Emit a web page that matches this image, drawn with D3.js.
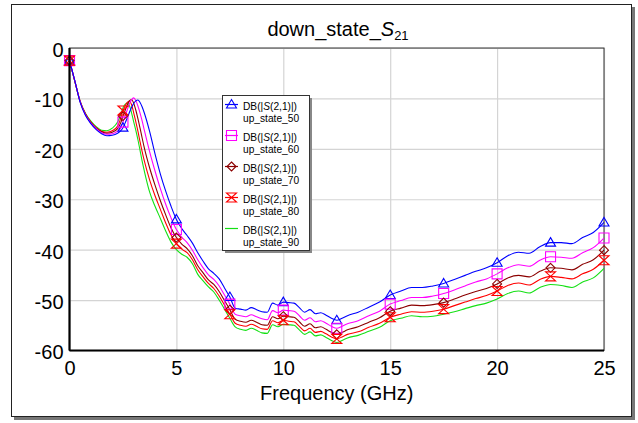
<!DOCTYPE html>
<html>
<head>
<meta charset="utf-8">
<script src="https://cdn.jsdelivr.net/npm/d3@7"></script>
<style>
  body { margin: 0; background: #fff; }
  text { font-family: "Liberation Sans", Arial, Helvetica, sans-serif; }
</style>
</head>
<body>
<svg id="chart"></svg>
<script>
// frequency grid (GHz)
const freq = [0,0.25,0.5,0.75,1,1.25,1.5,1.75,2,2.25,
  2.4,2.5,2.6,2.7,2.8,2.9,3,3.1,3.2,3.3,3.4,3.5,
  3.75,4,4.25,4.5,4.75,5,5.25,5.5,5.75,6,6.25,6.5,6.75,7,7.25,7.5,7.75,
  8,8.25,8.5,8.75,9,9.25,9.5,9.75,10,10.25,10.5,10.75,11,11.25,11.5,11.75,12,12.25,12.5,12.75,13,
  13.5,14,14.5,15,15.5,16,16.5,17,17.5,18,18.5,19,19.5,20,20.5,21,21.5,22,22.5,23,23.5,24,24.5,25];

// DB(|S(2,1)|) per state
const up50 = [-2.5,-6.5,-10.8,-13.4,-15.0,-16.2,-17.0,-17.4,-17.3,-16.9,
  -16.4,-15.8,-14.9,-13.9,-12.8,-11.8,-11.0,-10.5,-10.3,-10.8,-11.7,-12.9,
  -16.6,-21.0,-25.0,-28.4,-31.4,-34.0,-35.8,-37.2,-38.7,-40.6,-42.3,-43.8,-44.7,-45.8,-47.6,-49.4,-51.6,
  -51.8,-52.0,-51.5,-51.9,-52.3,-52.4,-50.6,-51.0,-50.4,-50.5,-50.6,-51.5,-52.4,-51.9,-52.7,-52.5,-53.0,-53.6,-54.0,-53.6,-53.1,
  -52.4,-51.4,-50.4,-49.0,-48.2,-47.5,-47.5,-47.2,-46.7,-45.9,-45.1,-44.3,-43.6,-42.6,-41.2,-40.5,-40.7,-39.4,-38.6,-38.6,-38.8,-37.6,-36.6,-34.6];

const up60 = [-2.5,-6.5,-10.7,-13.3,-14.9,-16.0,-16.8,-17.1,-17.0,-16.5,
  -15.8,-14.7,-13.5,-12.3,-11.1,-10.3,-9.9,-10.4,-11.5,-12.9,-14.5,-16.3,
  -20.6,-24.4,-27.9,-31.0,-33.7,-36.0,-37.5,-38.6,-40.1,-42.0,-43.6,-45.0,-45.9,-47.2,-49.0,-50.8,-52.8,
  -53.1,-53.3,-52.9,-53.3,-53.7,-53.9,-52.1,-52.5,-52.0,-52.1,-52.2,-53.1,-54.0,-53.5,-54.3,-54.1,-54.6,-55.2,-55.6,-55.2,-54.7,
  -54.1,-53.1,-52.2,-50.8,-50.1,-49.5,-49.5,-49.2,-48.7,-48.0,-47.2,-46.4,-45.8,-44.8,-43.6,-43.0,-43.3,-42.1,-41.4,-41.5,-41.7,-40.6,-39.6,-37.7];

const up70 = [-2.5,-6.6,-10.7,-13.2,-14.8,-15.9,-16.6,-16.9,-16.7,-16.0,
  -14.8,-13.5,-12.4,-11.3,-10.5,-10.2,-10.9,-12.3,-14.0,-15.9,-17.9,-19.8,
  -23.8,-27.2,-30.3,-33.1,-35.7,-37.6,-38.9,-39.8,-41.2,-43.2,-44.6,-46.0,-46.9,-48.3,-50.1,-51.9,-53.8,
  -54.2,-54.4,-54.0,-54.4,-54.9,-55.0,-53.3,-53.7,-53.2,-53.3,-53.4,-54.3,-55.2,-54.7,-55.5,-55.3,-55.8,-56.4,-56.8,-56.4,-55.9,
  -55.3,-54.4,-53.5,-52.2,-51.6,-51.0,-51.1,-50.9,-50.5,-49.8,-49.0,-48.3,-47.7,-46.8,-45.6,-45.1,-45.4,-44.3,-43.6,-43.7,-44.0,-42.9,-42.0,-40.1];

const up80 = [-2.5,-6.6,-10.6,-13.1,-14.7,-15.8,-16.5,-16.7,-16.4,-15.5,
  -13.9,-12.4,-11.5,-10.8,-10.5,-11.2,-12.8,-14.6,-16.5,-18.6,-20.6,-22.4,
  -26.2,-29.3,-32.0,-34.7,-37.1,-38.8,-39.9,-40.6,-42.0,-44.0,-45.4,-46.7,-47.7,-49.2,-51.0,-52.8,-54.6,
  -55.0,-55.2,-54.8,-55.2,-55.7,-55.8,-54.1,-54.5,-54.0,-54.2,-54.3,-55.2,-56.1,-55.6,-56.4,-56.2,-56.7,-57.3,-57.7,-57.3,-56.8,
  -56.3,-55.4,-54.6,-53.4,-52.8,-52.3,-52.4,-52.2,-51.8,-51.1,-50.4,-49.7,-49.1,-48.2,-47.1,-46.6,-47.0,-45.9,-45.3,-45.5,-45.8,-44.8,-43.9,-42.1];

const up90 = [-2.5,-6.6,-10.6,-13.0,-14.5,-15.6,-16.3,-16.4,-15.9,-14.7,
  -13.2,-11.9,-11.2,-10.9,-11.4,-12.8,-14.6,-16.3,-18.2,-20.3,-22.5,-24.4,
  -28.6,-31.4,-33.8,-36.3,-38.5,-40.0,-40.9,-41.5,-42.8,-44.9,-46.2,-47.4,-48.4,-50.0,-51.8,-53.6,-55.3,
  -55.8,-56.0,-55.6,-56.0,-56.5,-56.6,-54.9,-55.3,-54.8,-54.9,-55.0,-55.9,-56.8,-56.3,-57.1,-56.9,-57.4,-58.0,-58.4,-58.0,-57.5,
  -57.0,-56.2,-55.4,-54.1,-53.6,-53.1,-53.3,-53.2,-52.8,-52.3,-51.7,-51.1,-50.6,-49.8,-48.7,-48.2,-48.6,-47.5,-46.9,-47.1,-47.5,-46.4,-45.6,-43.7];

const stateNames = ["up_state_50", "up_state_60", "up_state_70", "up_state_80", "up_state_90"];
const markerFreqs = [0, 2.5, 5, 7.5, 10, 12.5, 15, 17.5, 20, 22.5, 25];
const xTicks = [0, 5, 10, 15, 20, 25];
const yTicks = [0, -10, -20, -30, -40, -50, -60];

const WIDTH = 638;
const HEIGHT = 423;
const MARGIN = { top: 48, bottom: 72.5, left: 69.5, right: 34 };

const colors = ["#0000ff", "#ff00ff", "#8b0000", "#ff0000", "#14e014"];
const shapes = ["triangle", "square", "diamond", "hourglass", "none"];

const series = [up50, up60, up70, up80, up90].map((vals, i) => ({
  name: stateNames[i],
  color: colors[i],
  shape: shapes[i],
  points: freq.map((f, j) => ({ f: f, v: vals[j] }))
}));

const svg = d3.select("#chart")
  .attr("width", WIDTH)
  .attr("height", HEIGHT);

const escala_x = d3.scaleLinear()
  .domain([0, 25])
  .range([MARGIN.left, WIDTH - MARGIN.right]);

const escala_y = d3.scaleLinear()
  .domain([-60, 0])
  .range([HEIGHT - MARGIN.bottom, MARGIN.top]);

const x0 = escala_x(0), x1 = escala_x(25);
const y0 = escala_y(0), y1 = escala_y(-60);

// outer frame with shadow
svg.append("rect").attr("x", 14).attr("y", 7).attr("width", 621).attr("height", 413).attr("fill", "#777");
svg.append("rect").attr("x", 11.5).attr("y", 4.5).attr("width", 620).attr("height", 412)
  .attr("fill", "#fff").attr("stroke", "#222").attr("stroke-width", 1);

// title
const title = svg.append("text")
  .attr("x", 338).attr("y", 36)
  .attr("text-anchor", "middle")
  .attr("font-size", 20)
  .attr("fill", "#000");
title.append("tspan").text("down_state_");
title.append("tspan").attr("font-style", "italic").text("S");
title.append("tspan").attr("font-size", 13).attr("dy", 4).text("21");

// grid via axes
const gridX = d3.axisBottom(escala_x).tickValues(xTicks).tickSize(-(y1 - y0)).tickFormat("");
const gridY = d3.axisLeft(escala_y).tickValues(yTicks).tickSize(-(x1 - x0)).tickFormat("");

svg.append("g")
  .attr("transform", `translate(0, ${y1})`)
  .call(gridX)
  .call(g => g.select(".domain").remove())
  .selectAll("line").attr("stroke", "#d4d4d4").attr("stroke-width", 1.2);

svg.append("g")
  .attr("transform", `translate(${x0}, 0)`)
  .call(gridY)
  .call(g => g.select(".domain").remove())
  .selectAll("line").attr("stroke", "#d4d4d4").attr("stroke-width", 1.2);

// tick labels
const ejeX = d3.axisBottom(escala_x).tickValues(xTicks).tickSize(0).tickPadding(10).tickFormat(d => String(d));
const ejeY = d3.axisLeft(escala_y).tickValues(yTicks).tickSize(0).tickPadding(6).tickFormat(d => String(d));

svg.append("g")
  .attr("transform", `translate(0, ${y1})`)
  .call(ejeX)
  .call(g => g.select(".domain").remove())
  .selectAll("text")
  .attr("font-size", 20)
  .attr("fill", "#000")
  .attr("font-family", "Liberation Sans, Arial, sans-serif");

svg.append("g")
  .attr("transform", `translate(${x0}, 0)`)
  .call(ejeY)
  .call(g => g.select(".domain").remove())
  .selectAll("text")
  .attr("font-size", 20)
  .attr("fill", "#000")
  .attr("dy", "0.42em")
  .attr("font-family", "Liberation Sans, Arial, sans-serif");

// plot frame
svg.append("rect").attr("x", x0).attr("y", y0).attr("width", x1 - x0).attr("height", y1 - y0)
  .attr("fill", "none").attr("stroke", "#333").attr("stroke-width", 1);

// traces
const line = d3.line()
  .x(d => escala_x(d.f))
  .y(d => escala_y(d.v))
  .curve(d3.curveMonotoneX);

svg.append("g").selectAll("path")
  .data(series.slice().reverse())
  .enter()
  .append("path")
  .attr("d", d => line(d.points))
  .attr("fill", "none")
  .attr("stroke", d => d.color)
  .attr("stroke-width", 1.1);

// marker shapes
function markerPath(shape) {
  if (shape === "triangle") return "M0,-5L5,3.5L-5,3.5Z";
  if (shape === "square") return "M-5,-5H5V5H-5Z";
  if (shape === "diamond") return "M0,-4.5L4.5,0L0,4.5L-4.5,0Z";
  if (shape === "hourglass") return "M-5,-4.5H5L-5,4.5H5Z";
  return null;
}

series.forEach(s => {
  if (s.shape === "none") return;
  const pts = s.points.filter(p => markerFreqs.includes(p.f));
  svg.append("g").selectAll("path")
    .data(pts)
    .enter()
    .append("path")
    .attr("transform", p => `translate(${escala_x(p.f)}, ${escala_y(p.v)})`)
    .attr("d", markerPath(s.shape))
    .attr("fill", "none")
    .attr("stroke", s.color)
    .attr("stroke-width", 1.1);
});

// thick left & bottom axes
svg.append("line").attr("x1", x0).attr("x2", x0).attr("y1", y0).attr("y2", y1)
  .attr("stroke", "#000").attr("stroke-width", 2.2);
svg.append("line").attr("x1", x0).attr("x2", x1).attr("y1", y1).attr("y2", y1)
  .attr("stroke", "#000").attr("stroke-width", 2.2);

// x axis label
svg.append("text")
  .attr("x", (x0 + x1) / 2).attr("y", 400)
  .attr("text-anchor", "middle")
  .attr("font-size", 20)
  .text("Frequency (GHz)");

// legend
const LEG = { x: 222, y: 95, w: 87, h: 155 };
svg.append("rect").attr("x", LEG.x + 3).attr("y", LEG.y + 3).attr("width", LEG.w).attr("height", LEG.h).attr("fill", "#888");
svg.append("rect").attr("x", LEG.x + 0.5).attr("y", LEG.y + 0.5).attr("width", LEG.w).attr("height", LEG.h)
  .attr("fill", "#fff").attr("stroke", "#333").attr("stroke-width", 1);

const leg = svg.append("g").selectAll("g")
  .data(series)
  .enter()
  .append("g")
  .attr("transform", (d, i) => `translate(0, ${i * 31})`);

leg.append("line")
  .attr("x1", 225).attr("x2", 238).attr("y1", 104.5).attr("y2", 104.5)
  .attr("stroke", d => d.color).attr("stroke-width", 1.2);

leg.filter(d => d.shape !== "none").append("path")
  .attr("transform", "translate(231.5, 104.5)")
  .attr("d", d => markerPath(d.shape))
  .attr("fill", "none")
  .attr("stroke", d => d.color)
  .attr("stroke-width", 1.1);

const t1 = leg.append("text").attr("x", 243).attr("y", 109.5).attr("font-size", 10.2).attr("fill", "#000");
t1.append("tspan").text("DB(|");
t1.append("tspan").attr("font-style", "italic").text("S");
t1.append("tspan").text("(2,1)|)");

leg.append("text").attr("x", 243).attr("y", 121.5).attr("font-size", 10.2).attr("fill", "#000")
  .text(d => d.name);
</script>
</body>
</html>
